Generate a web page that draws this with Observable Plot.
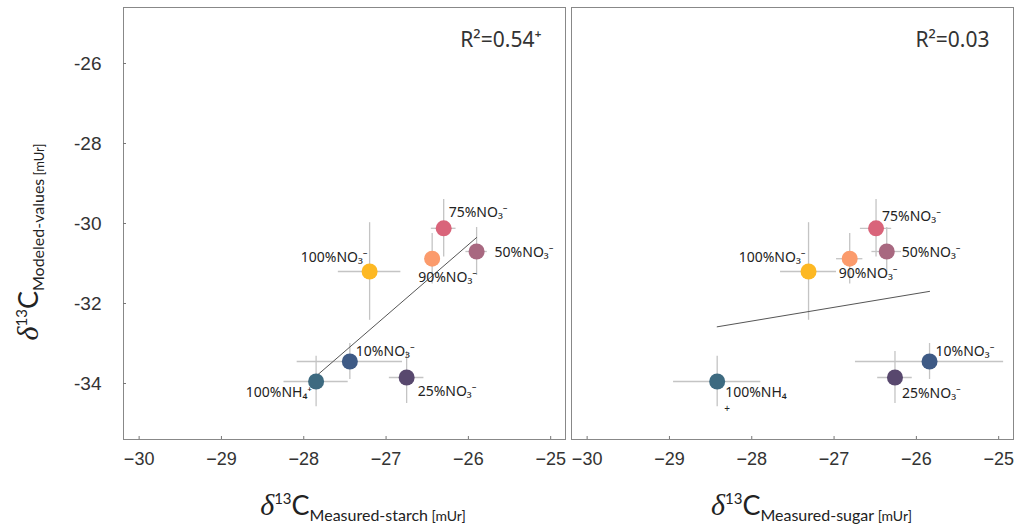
<!DOCTYPE html>
<html><head><meta charset="utf-8">
<script src="https://cdn.jsdelivr.net/npm/d3@7"></script>
<script src="https://cdn.jsdelivr.net/npm/@observablehq/plot@0.6"></script>
<style>body{margin:0;background:#fff;} #chart{width:1021px;height:528px;}</style>
</head><body><div id="chart"></div>
<script>
// ---- data ----
const treatments = ["100%NH₄⁺", "10%NO₃⁻", "25%NO₃⁻", "50%NO₃⁻", "75%NO₃⁻", "90%NO₃⁻", "100%NO₃⁻"];
const sugarLabels = ["100%NH₄", "10%NO₃⁻", "25%NO₃⁻", "50%NO₃⁻", "75%NO₃⁻", "90%NO₃⁻", "100%NO₃⁻"];
const colors = ["#3d6a80", "#3e5a85", "#58486e", "#a86880", "#d9647a", "#fb9b6c", "#fdb823"];
const modeled = [-33.95, -33.45, -33.85, -30.70, -30.12, -30.88, -31.20];
const modeledErr = [0.63, 0.45, 0.65, 0.60, 0.72, 0.63, 1.22];
const starch = [-27.85, -27.44, -26.75, -25.90, -26.30, -26.44, -27.20];
const starchErr = [0.39, 0.64, 0.21, 0.13, 0.15, 0.09, 0.38];
const sugar = [-28.42, -25.84, -26.26, -26.36, -26.49, -26.81, -27.31];
const sugarErr = [0.53, 0.90, 0.21, 0.18, 0.19, 0.16, 0.34];
const panels = ["starch", "sugar"];
const r2Labels = ["R²=0.54⁺", "R²=0.03"];
const xTicks = [-30, -29, -28, -27, -26, -25];
const yTicks = [-34, -32, -30, -28, -26];
const xTitles = ["Measured-starch", "Measured-sugar"];
const yTitle = "Modeled-values";
const unit = "[mUr]";

const rows = [];
treatments.forEach((t, i) => {
  rows.push({panel: "starch", treatment: t, label: t, x: starch[i], xErr: starchErr[i], y: modeled[i], yErr: modeledErr[i]});
  rows.push({panel: "sugar", treatment: t, label: sugarLabels[i], x: sugar[i], xErr: sugarErr[i], y: modeled[i], yErr: modeledErr[i]});
});
const r2 = panels.map((p, i) => ({panel: p, text: r2Labels[i]}));

const labelFont = {fontFamily: "'Noto Sans', sans-serif", fontSize: 14, fill: "#222"};
function lab(panel, idx, dx, dy, anchor) {
  return Plot.text(rows, {
    filter: d => d.panel === panel && d.treatment === treatments[idx],
    fx: "panel", x: "x", y: "y", text: "label",
    dx, dy, textAnchor: anchor, ...labelFont
  });
}

const plot = Plot.plot({
  width: 1021, height: 528,
  marginLeft: 122, marginRight: 8, marginTop: 7, marginBottom: 89,
  style: {fontFamily: "'Liberation Sans', Arial, sans-serif", background: "#fff"},
  fx: {domain: panels, paddingInner: 0.0134, paddingOuter: 0, axis: null},
  x: {domain: [-30.19, -24.82]},
  y: {domain: [-35.4, -24.6]},
  color: {domain: treatments, range: colors},
  marks: [
    Plot.frame({stroke: "#888"}),
    Plot.axisX({ticks: xTicks, tickSize: -3, tickPadding: 16, fontSize: 18, fill: "#333", stroke: "#777", label: null, tickFormat: d3.format("d")}),
    Plot.axisY({ticks: yTicks, tickSize: -3, tickPadding: 25, fontSize: 19, fill: "#333", stroke: "#777", label: null, tickFormat: d => String(d)}),
    Plot.ruleY(rows, {fx: "panel", y: "y", x1: d => d.x - d.xErr, x2: d => d.x + d.xErr, stroke: "#c4c4c4", strokeWidth: 1.3}),
    Plot.ruleX(rows, {fx: "panel", x: "x", y1: d => d.y - d.yErr, y2: d => d.y + d.yErr, stroke: "#c4c4c4", strokeWidth: 1.3}),
    Plot.linearRegressionY(rows, {fx: "panel", x: "x", y: "y", ci: 0, stroke: "#555", strokeWidth: 1}),
    Plot.dot(rows, {fx: "panel", x: "x", y: "y", fill: "treatment", r: 8}),
    // starch panel labels
    lab("starch", 0, -4, 11, "end"),
    lab("starch", 1, 6, -10, "start"),
    lab("starch", 2, 11, 14, "start"),
    lab("starch", 3, 18, 1, "start"),
    lab("starch", 4, 5, -16, "start"),
    lab("starch", 5, -14, 19, "start"),
    lab("starch", 6, -2, -14, "end"),
    // sugar panel labels
    lab("sugar", 0, 8, 11, "start"),
    Plot.text(rows, {filter: d => d.panel === "sugar" && d.treatment === treatments[0], fx: "panel", x: "x", y: "y", text: () => "+", dx: 10, dy: 27, fontFamily: "'Noto Sans', sans-serif", fontSize: 10, fill: "#222"}),
    lab("sugar", 1, 6, -10, "start"),
    lab("sugar", 2, 7, 16, "start"),
    lab("sugar", 3, 15, 1, "start"),
    lab("sugar", 4, 6, -12, "start"),
    lab("sugar", 5, -11, 15, "start"),
    lab("sugar", 6, -3, -14, "end"),
    Plot.text(r2, {fx: "panel", text: "text", frameAnchor: "top-right", textAnchor: "end", lineAnchor: "middle", dx: -24, dy: 33, fontFamily: "'Noto Sans', sans-serif", fontSize: 21, fill: "#333"})
  ]
});
document.getElementById("chart").appendChild(plot);

// axis titles with super/subscripts
const svg = d3.select(plot);
function title(sel, sub, unitSize) {
  sel.append("tspan").attr("font-family", "'Liberation Serif', serif").attr("font-style", "italic").attr("font-size", 30).text("δ");
  sel.append("tspan").attr("font-family", "Lato, sans-serif").attr("font-size", 15).attr("dy", -11).text("13");
  sel.append("tspan").attr("font-family", "Lato, sans-serif").attr("font-size", 27).attr("dy", 11).text("C");
  sel.append("tspan").attr("font-family", "Lato, sans-serif").attr("font-size", 16).attr("dy", 6).text(sub);
  sel.append("tspan").attr("font-family", "Lato, sans-serif").attr("font-size", unitSize).text(" " + unit);
}
[0, 1].forEach(i => {
  const cx = 122 + (i === 0 ? 0 : 448.5) + 221 + 20;
  const t = svg.append("text").attr("x", cx).attr("y", 515).attr("text-anchor", "middle").attr("fill", "#222");
  title(t, xTitles[i], 14);
});
const ty = svg.append("text").attr("transform", "translate(38,242) rotate(-90)").attr("text-anchor", "middle").attr("fill", "#222");
title(ty, yTitle, 13);
</script>
</body></html>
